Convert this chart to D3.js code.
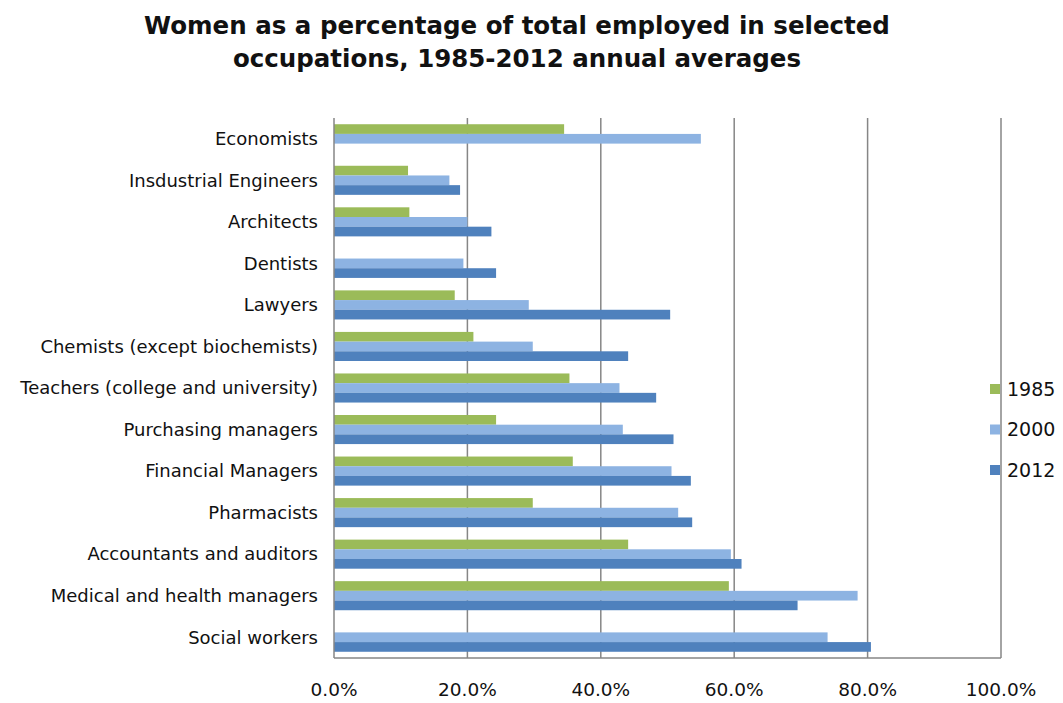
<!DOCTYPE html>
<html>
<head>
<meta charset="utf-8">
<script src="https://cdn.jsdelivr.net/npm/d3@7"></script>
<style>
  body { margin: 0; background: #fff; }
  text { font-family: "DejaVu Sans", Verdana, sans-serif; fill: #111; }
</style>
</head>
<body>
<div id="chart"></div>
<script>
const occupations = [
  "Economists", "Insdustrial Engineers", "Architects", "Dentists", "Lawyers",
  "Chemists (except biochemists)", "Teachers (college and university)",
  "Purchasing managers", "Financial Managers", "Pharmacists",
  "Accountants and auditors", "Medical and health managers", "Social workers"
];
const years = ["1985", "2000", "2012"];
// null = no bar shown for that year
const values1985 = [34.5, 11.1, 11.3, null, 18.1, 20.9, 35.3, 24.3, 35.8, 29.8, 44.1, 59.2, null];
const values2000 = [55.0, 17.3, 20.0, 19.4, 29.2, 29.8, 42.8, 43.3, 50.6, 51.6, 59.5, 78.5, 74.0];
const values2012 = [null, 18.9, 23.6, 24.3, 50.4, 44.1, 48.3, 50.9, 53.5, 53.7, 61.1, 69.5, 80.5];
const xTicks = [0, 20, 40, 60, 80, 100];
const colors = ["#9bbb59", "#8db3e2", "#4f81bd"];

const W = 1063, H = 703;
const margin = { top: 118, right: 62, bottom: 45, left: 334 };
const width = W - margin.left - margin.right;
const height = H - margin.top - margin.bottom;

const svg = d3.select("#chart").append("svg")
  .attr("width", W).attr("height", H);

// title
const title = svg.append("text")
  .attr("x", 517).attr("text-anchor", "middle")
  .style("font-weight", "bold").style("font-size", "24.5px");
title.append("tspan").attr("x", 517).attr("y", 34)
  .text("Women as a percentage of total employed in selected");
title.append("tspan").attr("x", 517).attr("y", 67)
  .text("occupations, 1985-2012 annual averages");

const g = svg.append("g").attr("transform", `translate(${margin.left},${margin.top})`);

const x = d3.scaleLinear().domain([0, 100]).range([0, width]);
const y = d3.scaleBand().domain(occupations).range([0, height]).paddingInner(0.3).paddingOuter(0.15);
const ySub = d3.scaleBand().domain(years).range([0, y.bandwidth()]);

// gridlines
g.append("g").selectAll("line").data(xTicks.slice(1)).join("line")
  .attr("x1", d => x(d)).attr("x2", d => x(d))
  .attr("y1", 0).attr("y2", height)
  .attr("stroke", "#868686").attr("stroke-width", 1.5);

// bars
const series = [values1985, values2000, values2012];
series.forEach((vals, si) => {
  g.append("g").selectAll("rect")
    .data(occupations.map((c, i) => ({ c, v: vals[i] })).filter(d => d.v != null))
    .join("rect")
    .attr("x", 0)
    .attr("y", d => y(d.c) + ySub(years[si]))
    .attr("width", d => x(d.v))
    .attr("height", ySub.bandwidth())
    .attr("fill", colors[si]);
});

// axes lines
g.append("line").attr("x1", 0).attr("x2", 0).attr("y1", 0).attr("y2", height)
  .attr("stroke", "#868686").attr("stroke-width", 1.5);
g.append("line").attr("x1", 0).attr("x2", width).attr("y1", height).attr("y2", height)
  .attr("stroke", "#868686").attr("stroke-width", 1.5);

// category labels
g.append("g").selectAll("text").data(occupations).join("text")
  .attr("x", -16)
  .attr("y", d => y(d) + y.bandwidth() / 2)
  .attr("dy", "0.35em")
  .attr("text-anchor", "end")
  .style("font-size", "18px")
  .text(d => d);

// x tick labels
g.append("g").selectAll("text").data(xTicks).join("text")
  .attr("x", d => x(d))
  .attr("y", height + 38)
  .attr("text-anchor", "middle")
  .style("font-size", "18.5px")
  .text(d => d3.format(".1f")(d) + "%");

// legend
const legend = svg.append("g").attr("transform", "translate(990,389)");
years.forEach((yr, i) => {
  const item = legend.append("g").attr("transform", `translate(0,${i * 40.5})`);
  item.append("rect").attr("x", 0).attr("y", -5).attr("width", 10).attr("height", 10).attr("fill", colors[i]);
  item.append("text").attr("x", 17).attr("y", 0).attr("dy", "0.35em")
    .style("font-size", "19px").text(yr);
});
</script>
</body>
</html>
